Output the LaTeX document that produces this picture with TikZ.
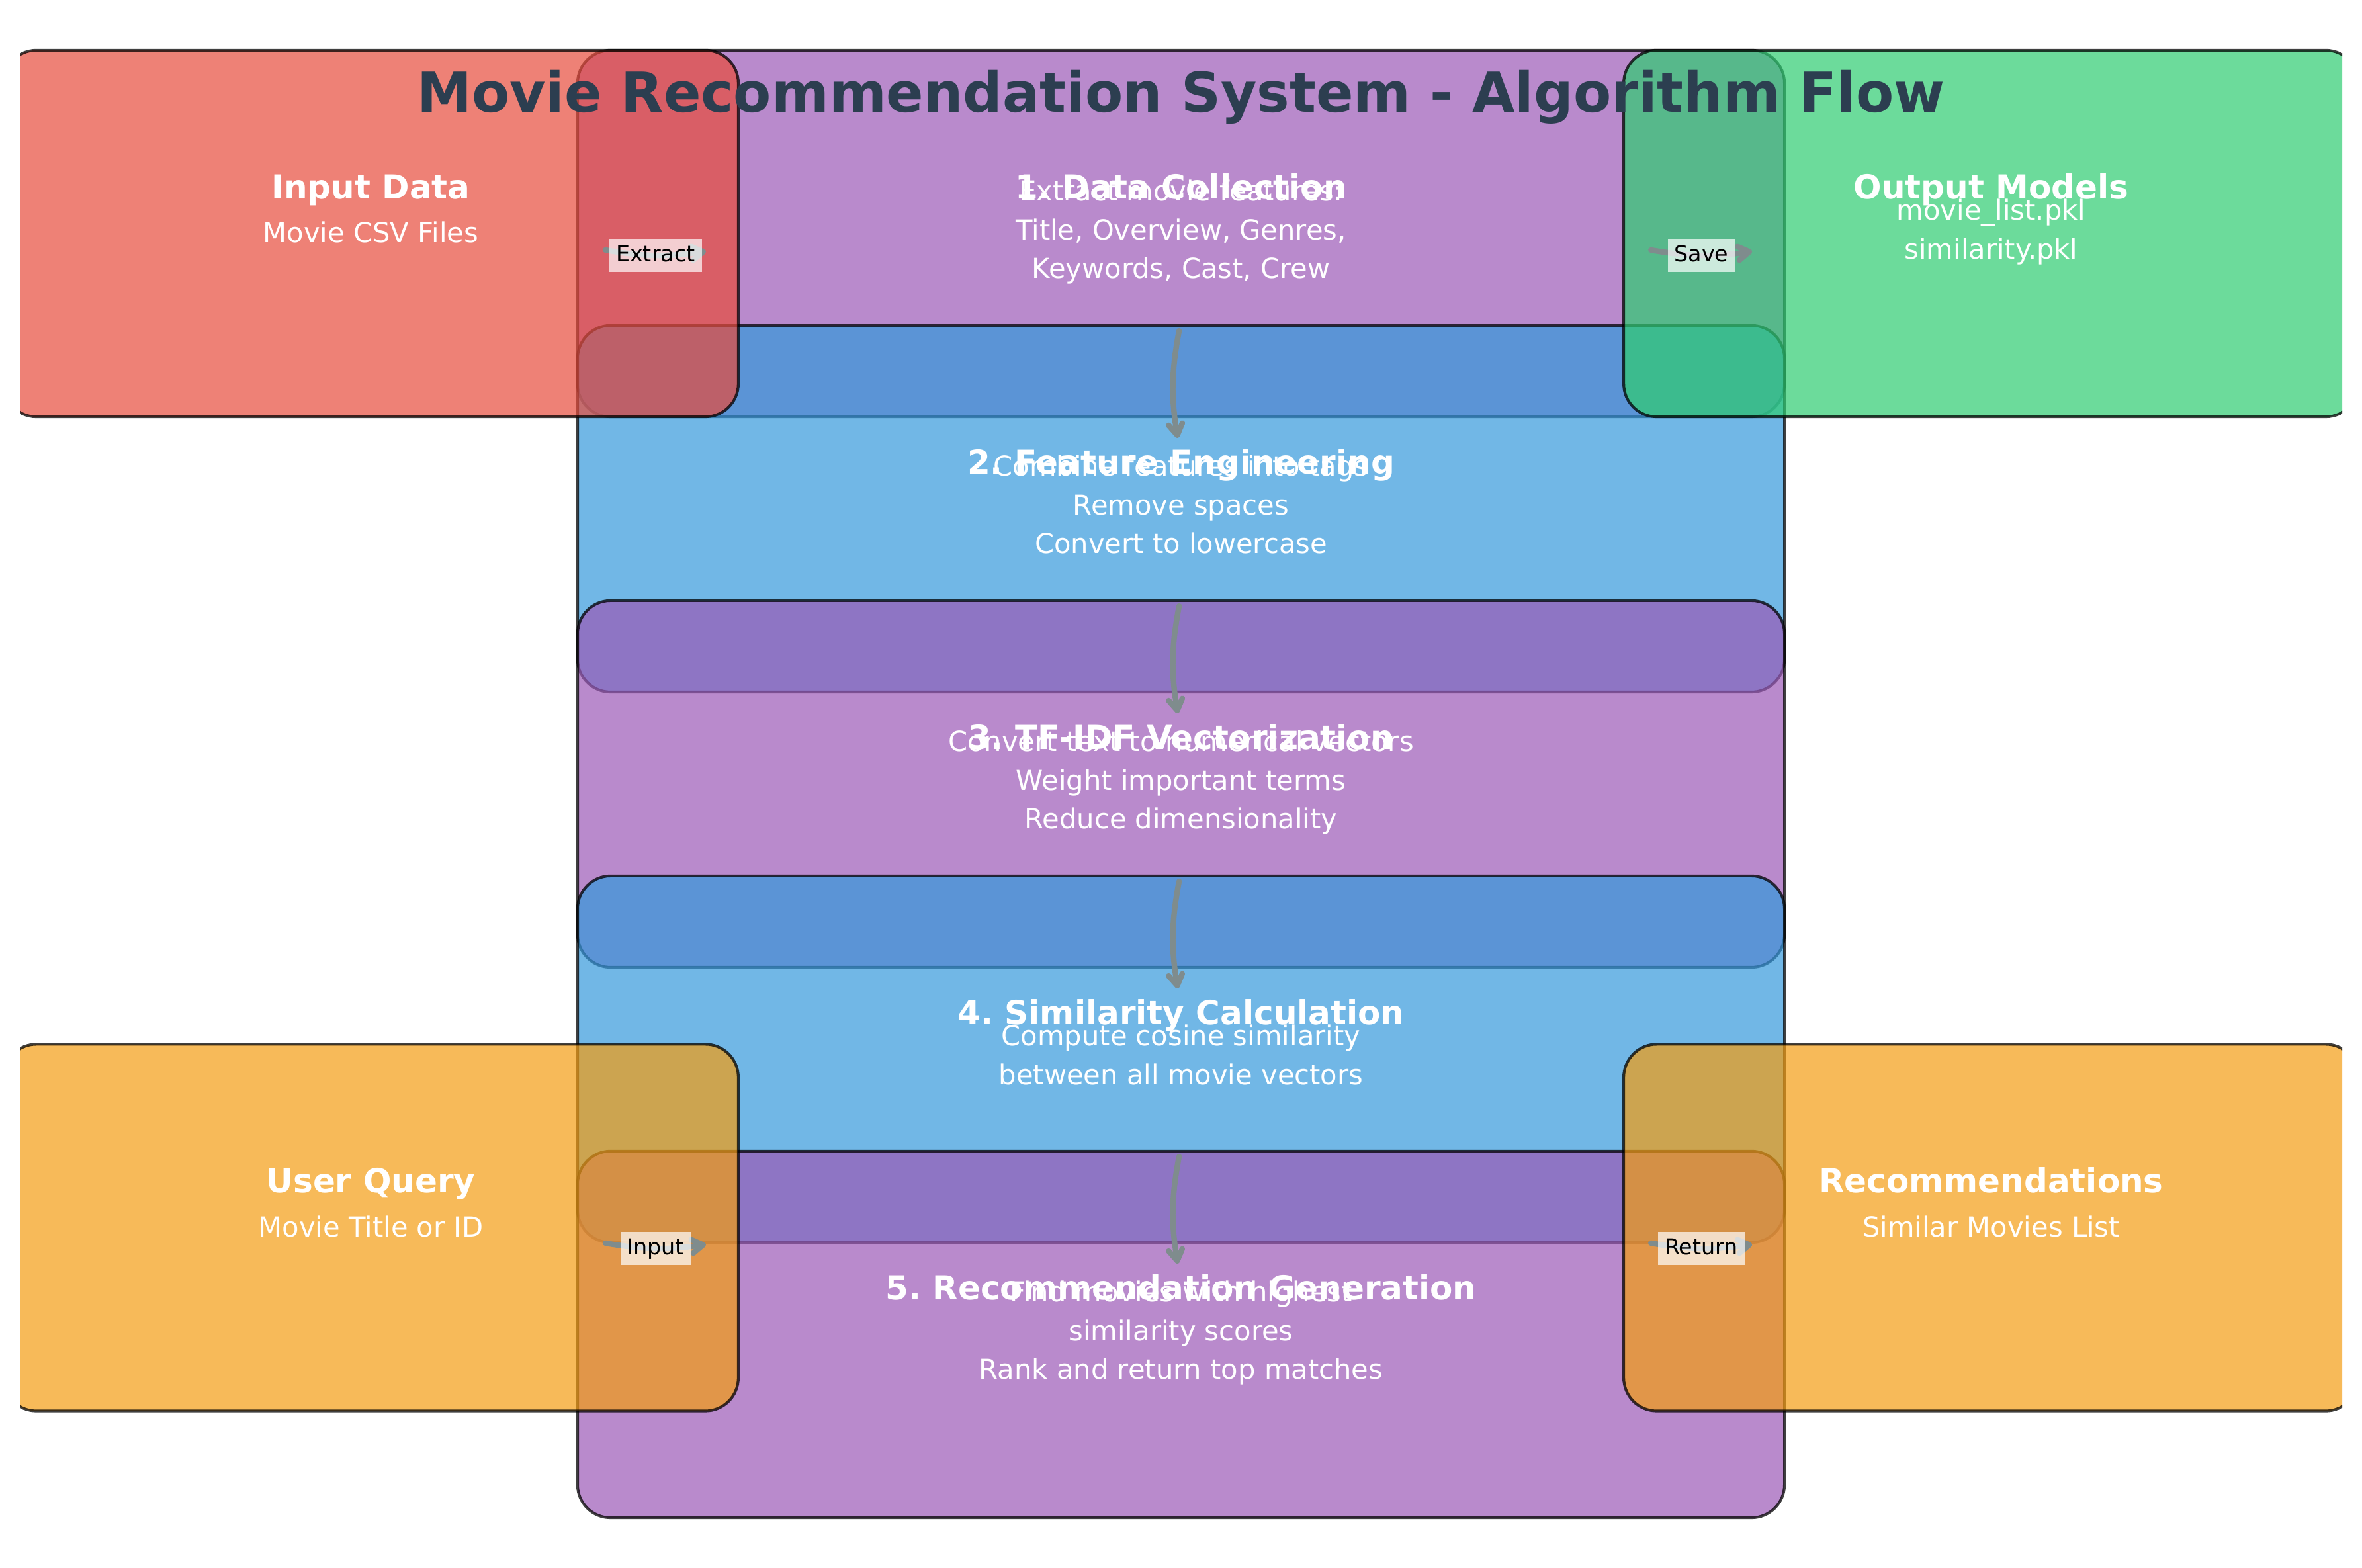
\documentclass[tikz,border=0pt]{standalone}
\usepackage{fontspec}
\setmainfont{DejaVu Sans}
\frenchspacing
\usetikzlibrary{arrows.meta,calc}
\definecolor{purp}{HTML}{9B59B6}
\definecolor{blu}{HTML}{3498DB}
\definecolor{rd}{HTML}{E74C3C}
\definecolor{grn}{HTML}{2ECC71}
\definecolor{orng}{HTML}{F39C12}
\definecolor{titlecol}{HTML}{2C3E50}
\definecolor{arrcol}{HTML}{7F8C8D}
\tikzset{>=latex}
\tikzstyle{stage}=[rectangle,draw=black,draw opacity=0.75,line width=1pt,fill opacity=0.7,rounded corners=12pt,minimum width=437.8pt,minimum height=133pt,inner sep=0pt]
\tikzstyle{side}=[stage,minimum width=266.6pt]
\tikzstyle{boxtitle}=[text=white,anchor=base,font=\fontsize{12}{14.4}\selectfont\bfseries]
\tikzstyle{boxtext}=[text=white,align=center,font=\fontsize{10}{14}\selectfont,execute at begin node=\strut,execute at end node=\strut]
\tikzstyle{flow}=[draw=arrcol,line width=2pt,line cap=round,-{Straight Barb[length=4pt,width=5pt,round]}]
\tikzstyle{lbl}=[fill=white,fill opacity=0.7,text opacity=1,text=black,font=\fontsize{8}{9.6}\selectfont,inner xsep=2.4pt,inner ysep=2.4pt,text height=6pt,text depth=1.2pt]

\begin{document}
\begin{tikzpicture}[x=24pt,y=24pt]
	\useasboundingbox (0,0) rectangle (35.7,23.7);

	% pipeline stages
	\foreach \i/\col/\head/\desc in {
		1/purp/{1. Data Collection}/{Extract movie features:\\Title, Overview, Genres,\\Keywords, Cast, Crew},
		2/blu/{2. Feature Engineering}/{Combine features into tags\\Remove spaces\\Convert to lowercase},
		3/purp/{3. TF-IDF Vectorization}/{Convert text to numerical vectors\\Weight important terms\\Reduce dimensionality},
		4/blu/{4. Similarity Calculation}/{Compute cosine similarity\\between all movie vectors},
		5/purp/{5. Recommendation Generation}/{Find movies with highest\\similarity scores\\Rank and return top matches}} {
		\node[stage, fill=\col] (s\i) at (17.85, {20.17-4.16*(\i-1)}) {};
		\node[boxtitle] (h\i) at ([yshift=12.7pt]s\i.center) {\head};
		\node[boxtext] (d\i) at ([yshift=-0.5pt]s\i.center) {\desc};
	};

	% side boxes
	\begin{scope}
		\clip (0.30,0) rectangle (35.40,23.70);
		\node[side, fill=rd] (inp) at (5.605,20.17) {};
		\node[side, fill=grn] (outm) at (30.095,20.17) {};
		\node[side, fill=orng] (qry) at (5.605,5.145) {};
		\node[side, fill=orng] (rec) at (30.095,5.145) {};
	\end{scope}

	\node[boxtitle] (hinp) at ([yshift=12.7pt]inp.center) {Input Data};
	\node[boxtext] (dinp) at ([yshift=-0.5pt]inp.center) {Movie CSV Files};
	\node[boxtitle] (houtm) at ([yshift=12.7pt]outm.center) {Output Models};
	\node[boxtext] (doutm) at ([yshift=-0.5pt]outm.center) {movie\_list.pkl\\similarity.pkl};
	\node[boxtitle] (hqry) at ([yshift=12.7pt]qry.center) {User Query};
	\node[boxtext] (dqry) at ([yshift=-0.5pt]qry.center) {Movie Title or ID};
	\node[boxtitle] (hrec) at ([yshift=12.7pt]rec.center) {Recommendations};
	\node[boxtext] (drec) at ([yshift=-0.5pt]rec.center) {Similar Movies List};

	% flow arrows
	\foreach \i in {1,...,4} {
		\pgfmathtruncatemacro{\j}{\i + 1};
		\draw[flow] ([xshift=-0.7pt,yshift=31.7pt]s\i.south) to[bend right=10] ([xshift=-1.2pt,yshift=-41.3pt]s\j.north);
	};

	\draw[flow] ([shift={(-2.03,-0.25)}]inp.east) to[bend right=9] node[lbl] (lext) {Extract} ([shift={(1.96,-0.27)}]s1.west);
	\draw[flow] ([shift={(-2.04,-0.25)}]s1.east) to[bend right=9] node[lbl] (lsav) {Save} ([shift={(1.96,-0.27)}]outm.west);
	\draw[flow] ([shift={(-2.03,-0.235)}]qry.east) to[bend right=9] node[lbl] (linp) {Input} ([shift={(1.96,1.36)}]s5.west);
	\draw[flow] ([shift={(-2.04,1.38)}]s5.east) to[bend right=9] node[lbl] (lret) {Return} ([shift={(1.96,-0.255)}]rec.west);

	\node[font=\fontsize{20}{24}\selectfont\bfseries, text=titlecol, anchor=base] (ttl) at (17.85,22.00) {Movie Recommendation System - Algorithm Flow};
\end{tikzpicture}
\end{document}
